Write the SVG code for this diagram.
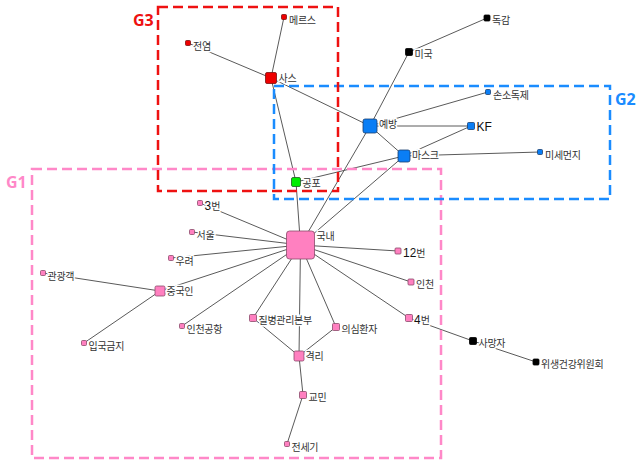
<svg xmlns="http://www.w3.org/2000/svg" width="640" height="469" viewBox="0 0 640 469">
<style>
.e{stroke:#5a5a5a;stroke-width:1;fill:none}
.n rect{stroke-width:0.8}
.pink{fill:#ff80c0;stroke:#8a4a6a}
.red{fill:#ee0000;stroke:#7a1010}
.blue{fill:#0a7ef5;stroke:#1a3f70}
.green{fill:#00ee00;stroke:#206020}
.black{fill:#000;stroke:#000}
.l{font-family:"Noto Sans CJK KR","Noto Sans",sans-serif;font-size:10px;letter-spacing:-0.3px;fill:#333;stroke:#fff;stroke-width:3px;stroke-linejoin:round;paint-order:stroke}
.d{font-family:"Liberation Sans",Arial,sans-serif;font-size:12px;letter-spacing:0;fill:#111}
.box{fill:none;stroke-width:2.5;stroke-dasharray:10 5}
.g{font-family:"Open Sans","Liberation Sans",sans-serif;font-weight:bold;font-size:16px}
</style>
<rect width="640" height="469" fill="#fff"/>
<g id="edges">
<line class="e" x1="271" y1="78" x2="284" y2="17"/>
<line class="e" x1="271" y1="78" x2="188" y2="43"/>
<line class="e" x1="271" y1="78" x2="370" y2="126"/>
<line class="e" x1="271" y1="78" x2="296" y2="182"/>
<line class="e" x1="296" y1="182" x2="300.5" y2="245"/>
<line class="e" x1="296" y1="182" x2="404" y2="156"/>
<line class="e" x1="370" y1="126" x2="409" y2="52"/>
<line class="e" x1="409" y1="52" x2="487" y2="18"/>
<line class="e" x1="370" y1="126" x2="488" y2="92"/>
<line class="e" x1="370" y1="126" x2="471" y2="126"/>
<line class="e" x1="370" y1="126" x2="404" y2="156"/>
<line class="e" x1="404" y1="156" x2="471" y2="126"/>
<line class="e" x1="404" y1="156" x2="540" y2="152"/>
<line class="e" x1="370" y1="126" x2="300.5" y2="245"/>
<line class="e" x1="404" y1="156" x2="300.5" y2="245"/>
<line class="e" x1="300.5" y1="245" x2="200" y2="203"/>
<line class="e" x1="300.5" y1="245" x2="192" y2="232"/>
<line class="e" x1="300.5" y1="245" x2="171" y2="258"/>
<line class="e" x1="300.5" y1="245" x2="160" y2="291"/>
<line class="e" x1="160" y1="291" x2="43" y2="273"/>
<line class="e" x1="160" y1="291" x2="84" y2="343"/>
<line class="e" x1="300.5" y1="245" x2="182" y2="326"/>
<line class="e" x1="300.5" y1="245" x2="253" y2="318"/>
<line class="e" x1="300.5" y1="245" x2="299" y2="356"/>
<line class="e" x1="300.5" y1="245" x2="336" y2="327"/>
<line class="e" x1="300.5" y1="245" x2="409" y2="318"/>
<line class="e" x1="300.5" y1="245" x2="411" y2="282"/>
<line class="e" x1="300.5" y1="245" x2="398" y2="251"/>
<line class="e" x1="253" y1="318" x2="299" y2="356"/>
<line class="e" x1="336" y1="327" x2="299" y2="356"/>
<line class="e" x1="299" y1="356" x2="303" y2="395"/>
<line class="e" x1="303" y1="395" x2="287" y2="444"/>
<line class="e" x1="409" y1="318" x2="473" y2="341"/>
<line class="e" x1="473" y1="341" x2="536" y2="362"/>
</g>
<g id="n-mers" class="n"><rect class="red" x="281.5" y="14.5" width="5" height="5" rx="1"/><text class="l" x="289" y="23.5">메르스</text></g>
<g id="n-jeonyeom" class="n"><rect class="red" x="185.5" y="40.5" width="5" height="5" rx="1"/><text class="l" x="193" y="49.5">전염</text></g>
<g id="n-sars" class="n"><rect class="red" x="265.5" y="72.5" width="11" height="11" rx="1.5"/><text class="l" x="278.5" y="81.5">사스</text></g>
<g id="n-gongpo" class="n"><rect class="green" x="291.5" y="177.5" width="9" height="9" rx="1.5"/><text class="l" x="302.5" y="186.5">공포</text></g>
<g id="n-migook" class="n"><rect class="black" x="405.5" y="48.5" width="7" height="7" rx="1"/><text class="l" x="414.5" y="57.5">미국</text></g>
<g id="n-dokgam" class="n"><rect class="black" x="484" y="15" width="6" height="6" rx="1"/><text class="l" x="492" y="24">독감</text></g>
<g id="n-sonsodok" class="n"><rect class="blue" x="485.5" y="89.5" width="5" height="5" rx="1"/><text class="l" x="493" y="98.5">손소독제</text></g>
<g id="n-yebang" class="n"><rect class="blue" x="363" y="119" width="14" height="14" rx="2"/><text class="l" x="379" y="128">예방</text></g>
<g id="n-kf" class="n"><rect class="blue" x="467.5" y="122.5" width="7" height="7" rx="1"/><text class="l d" x="476.5" y="130.5">KF</text></g>
<g id="n-mask" class="n"><rect class="blue" x="398" y="150" width="12" height="12" rx="2"/><text class="l" x="412" y="159">마스크</text></g>
<g id="n-misemunji" class="n"><rect class="blue" x="537.5" y="149.5" width="5" height="5" rx="1"/><text class="l" x="545" y="158.5">미세먼지</text></g>
<g id="n-gooknae" class="n"><rect class="pink" x="286.5" y="231" width="28" height="28" rx="3"/><text class="l" x="316.5" y="240">국내</text></g>
<g id="n-3beon" class="n"><rect class="pink" x="197.5" y="200.5" width="5" height="5" rx="1"/><text class="l" x="204.5" y="209.5"><tspan class="d">3</tspan>번</text></g>
<g id="n-seoul" class="n"><rect class="pink" x="189.5" y="229.5" width="5" height="5" rx="1"/><text class="l" x="196.5" y="238.5">서울</text></g>
<g id="n-uryeo" class="n"><rect class="pink" x="168.5" y="255.5" width="5" height="5" rx="1"/><text class="l" x="175.5" y="264.5">우려</text></g>
<g id="n-gwangwang" class="n"><rect class="pink" x="40.5" y="270.5" width="5" height="5" rx="1"/><text class="l" x="47.5" y="279.5">관광객</text></g>
<g id="n-junggookin" class="n"><rect class="pink" x="155" y="286" width="10" height="10" rx="1.5"/><text class="l" x="166.5" y="295">중국인</text></g>
<g id="n-ipguk" class="n"><rect class="pink" x="81.5" y="340.5" width="5" height="5" rx="1"/><text class="l" x="88.5" y="349.5">입국금지</text></g>
<g id="n-incheonairport" class="n"><rect class="pink" x="179.5" y="323.5" width="5" height="5" rx="1"/><text class="l" x="186.5" y="332.5">인천공항</text></g>
<g id="n-kcdc" class="n"><rect class="pink" x="249.5" y="314.5" width="7" height="7" rx="1"/><text class="l" x="258.5" y="323.5">질병관리본부</text></g>
<g id="n-uisim" class="n"><rect class="pink" x="332.5" y="323.5" width="7" height="7" rx="1"/><text class="l" x="341.5" y="332.5">의심환자</text></g>
<g id="n-gyeokri" class="n"><rect class="pink" x="294" y="351" width="10" height="10" rx="1.5"/><text class="l" x="305.5" y="360">격리</text></g>
<g id="n-gyomin" class="n"><rect class="pink" x="299.5" y="391.5" width="7" height="7" rx="1"/><text class="l" x="308.5" y="400.5">교민</text></g>
<g id="n-jeonsegi" class="n"><rect class="pink" x="284.5" y="441.5" width="5" height="5" rx="1"/><text class="l" x="291.5" y="450.5">전세기</text></g>
<g id="n-12beon" class="n"><rect class="pink" x="395" y="248" width="6" height="6" rx="1"/><text class="l" x="403" y="257"><tspan class="d">12</tspan>번</text></g>
<g id="n-incheon" class="n"><rect class="pink" x="408" y="279" width="6" height="6" rx="1"/><text class="l" x="416" y="288">인천</text></g>
<g id="n-4beon" class="n"><rect class="pink" x="405.5" y="314.5" width="7" height="7" rx="1"/><text class="l" x="414" y="323.5"><tspan class="d">4</tspan>번</text></g>
<g id="n-samangja" class="n"><rect class="black" x="469.5" y="337.5" width="7" height="7" rx="1"/><text class="l" x="478.5" y="346.5">사망자</text></g>
<g id="n-wisaeng" class="n"><rect class="black" x="533" y="359" width="6" height="6" rx="1"/><text class="l" x="541" y="368">위생건강위원회</text></g>
<g id="groups">
<rect class="box" x="32" y="169" width="409" height="289" stroke="#ff88c8"/>
<rect class="box" x="274" y="86" width="336" height="113" stroke="#1a8cff"/>
<rect class="box" x="158" y="7" width="180" height="184" stroke="#ee1111"/>
<text class="g" x="6" y="188" fill="#ff88c8">G1</text>
<text class="g" x="615" y="105" fill="#1a8cff">G2</text>
<text class="g" x="133" y="26" fill="#ee1111">G3</text>
</g>
</svg>
